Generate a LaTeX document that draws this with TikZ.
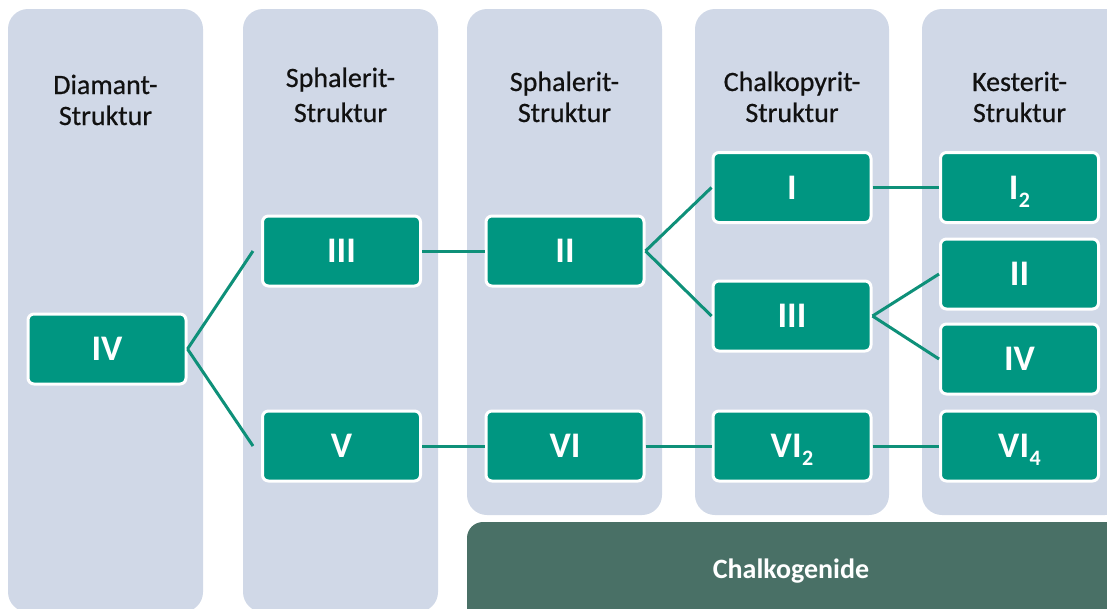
\documentclass[tikz,border=0pt]{standalone}
\usepackage{fontspec}
\setmainfont{Carlito}
\newfontfamily\headfont[FakeBold=0.6]{Carlito}
\definecolor{colbg}{HTML}{D0D8E7}
\definecolor{boxgreen}{HTML}{009681}
\definecolor{linegreen}{HTML}{0E9079}
\definecolor{bardark}{HTML}{497066}
\definecolor{headtext}{HTML}{111111}
\newcommand\lowsub[1]{\kern0.5pt\raisebox{-8pt}{\fontsize{22pt}{22pt}\selectfont #1}}
\begin{document}
\begin{tikzpicture}[x=1pt,y=-1pt,
  colbox/.style={fill=colbg, rounded corners=20pt},
  elem/.style={draw=white, line width=3pt, fill=boxgreen, rounded corners=6pt,
    minimum width=158pt, minimum height=70pt, inner sep=0pt, text=white,
    font=\fontsize{36pt}{36pt}\selectfont\bfseries, text height=23pt, text depth=0pt},
  head/.style={anchor=base, inner sep=0pt, text=headtext, font=\headfont\fontsize{28pt}{28pt}\selectfont},
  link/.style={draw=linegreen, line width=3pt}]
\useasboundingbox (0,0) rectangle (1107,608);
\clip (0,0) rectangle (1107,608);
% columns
\fill[colbox] (8,9) rectangle (203,612);
\fill[colbox] (243,9) rectangle (438,612);
\fill[colbox] (467,9) rectangle (662,515);
\fill[colbox] (695,9) rectangle (889,515);
\fill[colbox] (922,9) rectangle (1125,515);
% bar
\fill[bardark, rounded corners=16pt] (467,522) rectangle (1125,625);
\node[text=white, font=\fontsize{28pt}{28pt}\selectfont\bfseries] (chalk) at (791,571) {Chalkogenide};
% headings
\node[head] (h1a) at (105.5,94) {Diamant-};
\node[head] (h1b) at (105.5,125) {Struktur};
\node[head] (h2a) at (340.5,87) {Sphalerit-};
\node[head] (h2b) at (340.5,122) {Struktur};
\node[head] (h3a) at (564.5,91) {Sphalerit-};
\node[head] (h3b) at (564.5,122) {Struktur};
\node[head] (h4a) at (792,91) {Chalkopyrit-};
\node[head] (h4b) at (792,122) {Struktur};
\node[head] (h5a) at (1019.5,91) {Kesterit-};
\node[head] (h5b) at (1019.5,122) {Struktur};
% boxes
\node[elem] (IV) at (107,349) {IV};
\node[elem] (IIIa) at (341.5,251) {III};
\node[elem] (V) at (341.5,446) {V};
\node[elem] (IIb) at (565,251) {II};
\node[elem] (VIb) at (565,446) {VI};
\node[elem] (Ic) at (792,187.5) {I};
\node[elem] (IIIc) at (792,316) {III};
\node[elem] (VIc) at (792,446) {VI\lowsub{2}};
\node[elem] (Id) at (1019.5,187.5) {I\lowsub{2}};
\node[elem] (IId) at (1019.5,274) {II};
\node[elem] (IVd) at (1019.5,359) {IV};
\node[elem] (VId) at (1019.5,446) {VI\lowsub{4}};
% connectors
\draw[link] (IV.east) -- ([xshift=-8pt]IIIa.west);
\draw[link] (IV.east) -- ([xshift=-8pt]V.west);
\draw[link] (IIIa.east) -- (IIb.west);
\draw[link] (V.east) -- (VIb.west);
\draw[link] (IIb.east) -- (Ic.west);
\draw[link] (IIb.east) -- (IIIc.west);
\draw[link] (VIb.east) -- (VIc.west);
\draw[link] (Ic.east) -- (Id.west);
\draw[link] (IIIc.east) -- (IId.west);
\draw[link] (IIIc.east) -- (IVd.west);
\draw[link] (VIc.east) -- (VId.west);
\end{tikzpicture}
\end{document}
